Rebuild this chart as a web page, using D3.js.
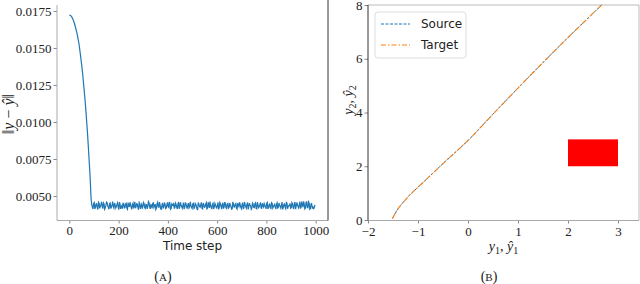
<!DOCTYPE html>
<html>
<head>
<meta charset="utf-8">
<script src="https://cdn.jsdelivr.net/npm/d3@7"></script>
<style>
  body { margin: 0; background: #fff; }
  svg { display: block; }
</style>
</head>
<body>
<div id="chart"></div>
<script>
// (A) error norm over time steps
const decayT = [0, 5, 10, 15, 20, 25, 31, 36, 40, 45, 51, 55, 60, 65, 69, 74, 78, 81, 84, 86, 88];
const decayV = [0.01723, 0.01720, 0.01710, 0.01693, 0.01670, 0.01640, 0.01600, 0.01558, 0.01520, 0.01455,
  0.01374, 0.01310, 0.01220, 0.01125, 0.01036, 0.00920, 0.00810, 0.00725, 0.00640, 0.00570, 0.00490];
const noiseStart = 91;
const noiseStep = 5;
// two interleaved samples of the noisy plateau, in units of 1e-4
const noiseV = [
  44.1, 41.2, 45.6, 42.3, 44.8, 40.9, 45.2, 43.1, 46.0, 41.5,
  44.7, 42.0, 45.9, 43.4, 41.1, 45.3, 42.6, 46.2, 41.8, 44.0,
  42.9, 45.5, 40.8, 44.6, 43.0, 41.4, 44.9, 42.2, 45.1, 41.0,
  43.7, 45.8, 42.4, 44.3, 41.6, 46.1, 42.8, 44.5, 40.7, 45.0,
  43.3, 41.9, 45.7, 42.1, 44.4, 41.3, 46.3, 42.7, 44.2, 41.7,
  45.4, 43.2, 40.9, 44.8, 42.5, 45.9, 41.2, 43.9, 42.0, 45.6,
  41.5, 44.1, 42.8, 46.0, 41.0, 44.6, 43.5, 41.8, 45.2, 42.3,
  44.9, 41.4, 45.8, 42.9, 43.6, 41.1, 45.3, 42.6, 44.0, 41.9,
  46.1, 42.2, 44.7, 41.6, 45.0, 43.1, 40.8, 44.5, 42.4, 45.7,
  41.3, 44.2, 42.7, 45.5, 41.7, 43.8, 46.2, 42.0, 44.4, 41.2,
  45.1, 42.5, 43.9, 41.0, 45.6, 42.8, 44.3, 41.5, 45.9, 42.1,
  44.6, 41.8, 45.3, 43.0, 41.4, 44.8, 42.6, 45.0, 41.1, 43.7,
  45.8, 42.3, 44.1, 41.6, 46.0, 42.9, 44.5, 40.9, 45.2, 43.4,
  41.9, 44.7, 42.2, 45.4, 41.3, 44.0, 42.7, 45.7, 41.7, 43.6,
  44.9, 42.4, 45.1, 41.2, 44.2, 42.0, 45.5, 41.8, 43.8, 42.5,
  44.6, 41.5, 45.3, 42.8, 43.9, 41.0, 44.4, 42.3, 45.6, 41.4,
  43.5, 45.0, 42.1, 44.8, 41.6, 45.9, 43.2, 44.3, 41.9, 46.3,
  42.6, 44.5, 46.4, 41.3, 45.8, 42.2, 46.1, 41.1, 44.7, 42.0,
  41.4, 43.6
];
const noiseV2 = [
  42.5, 45.0, 41.3, 44.6, 42.0, 45.8, 41.6, 44.3, 42.9, 45.4,
  41.1, 43.8, 45.6, 42.2, 44.9, 41.5, 44.0, 42.8, 45.3, 41.9,
  44.5, 42.3, 45.9, 41.2, 43.6, 45.1, 42.0, 44.7, 41.7, 45.5,
  42.6, 44.1, 41.0, 45.2, 43.3, 41.8, 44.8, 42.1, 45.7, 41.4,
  44.4, 42.7, 45.0, 41.6, 44.2, 42.9, 45.6, 41.3, 43.9, 45.1,
  42.2, 44.6, 41.8, 45.8, 42.4, 44.0, 41.1, 45.3, 42.6, 44.5,
  41.9, 45.7, 42.3, 44.8, 41.5, 43.7, 45.4, 42.0, 44.3, 41.2,
  45.9, 42.7, 44.1, 41.7, 45.5, 42.5, 44.9, 41.4, 45.2, 42.8,
  43.8, 41.6, 45.0, 42.1, 44.4, 41.0, 45.6, 42.9, 44.2, 41.8,
  45.3, 42.4, 44.7, 41.3, 45.8, 42.0, 43.6, 41.5, 45.1, 42.6,
  44.0, 41.9, 45.7, 42.2, 44.6, 41.1, 45.4, 42.7, 44.8, 41.6,
  45.0, 42.3, 43.9, 41.2, 45.9, 42.5, 44.5, 41.7, 45.2, 42.8,
  44.1, 41.4, 45.5, 42.0, 44.3, 41.8, 45.6, 42.9, 43.7, 41.0,
  45.3, 42.4, 44.9, 41.5, 45.8, 42.1, 44.2, 41.9, 45.1, 42.6,
  43.8, 41.3, 45.7, 42.2, 44.6, 41.6, 45.0, 42.7, 44.4, 41.1,
  45.4, 42.5, 44.0, 41.8, 45.9, 42.3, 44.7, 41.4, 45.2, 42.8,
  43.6, 41.7, 45.5, 42.0, 44.8, 41.2, 45.6, 42.9, 44.1, 41.5,
  46.2, 42.4, 44.5, 41.9, 46.0, 42.1, 45.3, 41.6, 44.9, 42.6,
  41.8, 43.9
];
const xTicksA = [0, 200, 400, 600, 800, 1000];
const yTicksA = [0.005, 0.0075, 0.01, 0.0125, 0.015, 0.0175];

// (B) trajectory in (y1, y2) plane
const pathX = [-1.51, -1.47, -1.43, -1.39, -1.30, -1.20, -1.00, -0.80, -0.50, 0.00, 0.50, 1.00, 1.50, 2.00, 2.30, 2.67];
const pathY = [0.06, 0.20, 0.33, 0.44, 0.65, 0.86, 1.22, 1.57, 2.10, 2.96, 3.94, 4.91, 5.86, 6.79, 7.33, 8.00];
const targetBox = { x0: 2, x1: 3, y0: 2, y1: 3 };
const xTicksB = [-2, -1, 0, 1, 2, 3];
const yTicksB = [0, 2, 4, 6, 8];
const legendNames = ['Source', 'Target'];

const blue = '#1f77b4';
const orange = '#ff7f0e';
const serifFont = 'Liberation Serif';
const sansFont = 'DejaVu Sans';

const svg = d3.select('#chart').append('svg').attr('width', 640).attr('height', 284);

function spine(x1, y1, x2, y2, color) {
  svg.append('line').attr('x1', x1).attr('y1', y1).attr('x2', x2).attr('y2', y2)
    .attr('stroke', color).attr('stroke-width', 1);
}

function styleAxis(g) {
  g.attr('font-family', serifFont).attr('font-size', 13);
  g.select('.domain').remove();
  g.selectAll('.tick line').attr('stroke', '#888');
  g.selectAll('.tick text').attr('fill', '#222');
}

// ---------- panel A ----------
const xA = d3.scaleLinear().domain([-50, 1050]).range([57, 328]);
const yA = d3.scaleLinear().domain([0.00338, 0.01824]).range([220, 0]);

svg.append('g').attr('transform', 'translate(0,220)')
  .call(d3.axisBottom(xA).tickValues(xTicksA).tickSize(3.5).tickPadding(2).tickFormat(d3.format('d')))
  .call(styleAxis);
svg.append('g').attr('transform', 'translate(57,0)')
  .call(d3.axisLeft(yA).tickValues(yTicksA).tickSize(3.5).tickPadding(2).tickFormat(d3.format('.4f')))
  .call(styleAxis);

spine(57, 5, 57, 220.5, '#aaa');
spine(57, 220.5, 328, 220.5, '#aaa');
spine(328, 0, 328, 220.5, '#333');

const seriesA = decayT.map((t, i) => [t, decayV[i]]);
noiseV.forEach((v, i) => {
  seriesA.push([noiseStart + i * noiseStep, v * 1e-4]);
  seriesA.push([noiseStart + i * noiseStep + noiseStep / 2, noiseV2[i] * 1e-4]);
});

svg.append('path').datum(seriesA)
  .attr('fill', 'none').attr('stroke', blue).attr('stroke-width', 1.2)
  .attr('d', d3.line().x(d => xA(d[0])).y(d => yA(d[1])));

svg.append('text').attr('transform', 'translate(14,114) rotate(-90)')
  .attr('text-anchor', 'middle')
  .attr('font-family', serifFont).attr('font-size', 16).attr('fill', '#222')
  .call(t => {
    t.append('tspan').text('‖');
    t.append('tspan').attr('font-style', 'italic').text('y');
    t.append('tspan').text(' − ');
    t.append('tspan').attr('font-style', 'italic').text('ŷ');
    t.append('tspan').text('‖');
  });

svg.append('text').attr('x', 192.5).attr('y', 250).attr('text-anchor', 'middle')
  .attr('font-family', sansFont).attr('font-size', 12).attr('fill', '#222')
  .text('Time step');

svg.append('text').attr('x', 163).attr('y', 281).attr('text-anchor', 'middle')
  .attr('font-family', serifFont).attr('font-size', 14).attr('fill', '#222')
  .call(t => {
    t.append('tspan').text('(');
    t.append('tspan').attr('font-size', 11).text('A');
    t.append('tspan').text(')');
  });

// ---------- panel B ----------
const xB = d3.scaleLinear().domain([-2, 3.42]).range([368, 639]);
const yB = d3.scaleLinear().domain([0, 8]).range([220, 5]);

svg.append('g').attr('transform', 'translate(0,220)')
  .call(d3.axisBottom(xB).tickValues(xTicksB).tickSize(3.5).tickPadding(3).tickFormat(d3.format('d')))
  .call(styleAxis);
svg.append('g').attr('transform', 'translate(368,0)')
  .call(d3.axisLeft(yB).tickValues(yTicksB).tickSize(3.5).tickPadding(2).tickFormat(d3.format('d')))
  .call(styleAxis);

spine(368, 5, 639, 5, '#bbb');
spine(639, 5, 639, 220.5, '#bbb');
spine(368, 220.5, 639, 220.5, '#aaa');
spine(368, 5, 368, 220.5, '#333');

svg.append('rect')
  .attr('x', xB(targetBox.x0)).attr('y', yB(targetBox.y1))
  .attr('width', xB(targetBox.x1) - xB(targetBox.x0))
  .attr('height', yB(targetBox.y0) - yB(targetBox.y1))
  .attr('fill', '#ff0000');

const path = pathX.map((x, i) => [x, pathY[i]]);
const lineB = d3.line().curve(d3.curveMonotoneX).x(d => xB(d[0])).y(d => yB(d[1]));

svg.append('path').datum(path).attr('fill', 'none').attr('stroke', blue)
  .attr('stroke-width', 1).attr('stroke-dasharray', '3,1.5').attr('d', lineB);
svg.append('path').datum(path).attr('fill', 'none').attr('stroke', orange)
  .attr('stroke-width', 1.1).attr('stroke-dasharray', '5,2,1.5,2').attr('d', lineB);

// legend
svg.append('rect').attr('x', 375).attr('y', 12).attr('width', 91).attr('height', 46).attr('rx', 3)
  .attr('fill', '#fff').attr('fill-opacity', 0.8).attr('stroke', '#ddd');
const legendStyles = [
  { color: blue, dash: '3,1.5' },
  { color: orange, dash: '5,2,1.5,2' }
];
legendNames.forEach((name, i) => {
  const y = 24 + i * 21;
  svg.append('line').attr('x1', 381).attr('x2', 410).attr('y1', y).attr('y2', y)
    .attr('stroke', legendStyles[i].color).attr('stroke-width', 1)
    .attr('stroke-dasharray', legendStyles[i].dash);
  svg.append('text').attr('x', 421).attr('y', y).attr('dy', '0.35em')
    .attr('font-family', sansFont).attr('font-size', 12).attr('fill', '#222')
    .text(name);
});

svg.append('text').attr('transform', 'translate(353,100) rotate(-90)')
  .attr('text-anchor', 'middle')
  .attr('font-family', serifFont).attr('font-size', 14).attr('fill', '#222')
  .call(t => {
    t.append('tspan').attr('font-style', 'italic').text('y');
    t.append('tspan').attr('dy', 3).attr('font-size', 10).text('2');
    t.append('tspan').attr('dy', -3).text(', ');
    t.append('tspan').attr('font-style', 'italic').text('ŷ');
    t.append('tspan').attr('dy', 3).attr('font-size', 10).text('2');
  });

svg.append('text').attr('x', 503.5).attr('y', 251).attr('text-anchor', 'middle')
  .attr('font-family', serifFont).attr('font-size', 14).attr('fill', '#222')
  .call(t => {
    t.append('tspan').attr('font-style', 'italic').text('y');
    t.append('tspan').attr('dy', 3).attr('font-size', 10).text('1');
    t.append('tspan').attr('dy', -3).text(', ');
    t.append('tspan').attr('font-style', 'italic').text('ŷ');
    t.append('tspan').attr('dy', 3).attr('font-size', 10).text('1');
  });

svg.append('text').attr('x', 489).attr('y', 281).attr('text-anchor', 'middle')
  .attr('font-family', serifFont).attr('font-size', 14).attr('fill', '#222')
  .call(t => {
    t.append('tspan').text('(');
    t.append('tspan').attr('font-size', 11).text('B');
    t.append('tspan').text(')');
  });
</script>
</body>
</html>
